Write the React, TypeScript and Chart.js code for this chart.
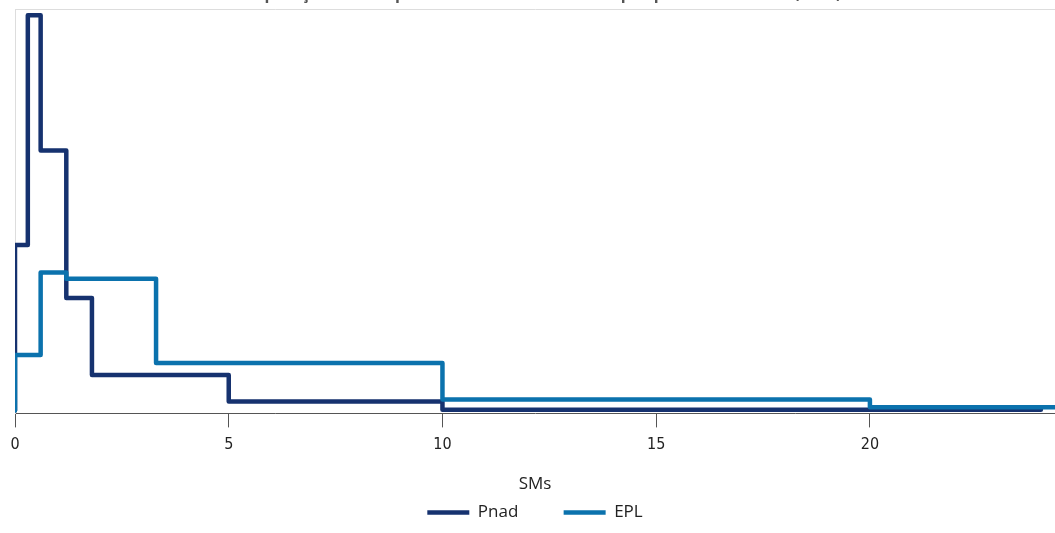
import React, { useEffect, useRef } from "react";
import { Chart, registerables } from "chart.js";

Chart.register(...registerables);

const TITLE = "Comparação entre o perfil salarial dos dados das pesquisas Pnad e EPL (2017)";
const X_TITLE = "SMs";
const X_TICKS = [0, 5, 10, 15, 20];

// Histogram bin edges (in minimum wages) and densities, drawn as step lines
const PNAD_X = [0, 0, 0.3, 0.6, 1.2, 1.8, 5, 10, 24];
const PNAD_Y = [0, 0.206, 0.4925, 0.324, 0.14, 0.044, 0.011, 0.001, 0.001];
const EPL_X = [0, 0, 0.6, 1.2, 3.3, 10, 20, 25];
const EPL_Y = [0, 0.069, 0.172, 0.164, 0.059, 0.0137, 0.004, 0.004];

const PNAD_COLOR = "#16326f";
const EPL_COLOR = "#0b72ad";

export default function App() {
  const ref = useRef<HTMLCanvasElement | null>(null);
  useEffect(() => {
    if (!ref.current) return;
    const chart = new Chart(ref.current, {
      type: "line",
      data: {
        datasets: [
          {
            label: "Pnad",
            data: PNAD_X.map((x, i) => ({ x, y: PNAD_Y[i] })),
            borderColor: PNAD_COLOR,
            backgroundColor: PNAD_COLOR,
            borderWidth: 4.5,
            stepped: "before",
            pointRadius: 0,
            borderJoinStyle: "round",
            borderCapStyle: "round",
            order: 1,
          },
          {
            label: "EPL",
            data: EPL_X.map((x, i) => ({ x, y: EPL_Y[i] })),
            borderColor: EPL_COLOR,
            backgroundColor: EPL_COLOR,
            borderWidth: 4.5,
            stepped: "before",
            pointRadius: 0,
            borderJoinStyle: "round",
            borderCapStyle: "round",
            order: 0,
          },
        ],
      },
      options: {
        animation: false,
        responsive: true,
        maintainAspectRatio: false,
        layout: { padding: { left: 15, right: 0, top: 0, bottom: 2 } },
        plugins: {
          title: {
            display: true,
            text: TITLE,
            color: "#555",
            font: { family: "'Open Sans', sans-serif", size: 16, weight: "bold" },
            padding: { top: 5, bottom: 5 },
          },
          legend: {
            position: "bottom",
            labels: {
              usePointStyle: true,
              pointStyle: "line",
              pointStyleWidth: 42,
              color: "#222",
              font: { family: "'Open Sans', sans-serif", size: 17 },
              padding: 10,
              generateLabels: (c: any) => {
                const items = Chart.defaults.plugins.legend.labels
                  .generateLabels(c)
                  .slice()
                  .sort((a: any, b: any) => a.datasetIndex - b.datasetIndex);
                return items.map((it: any, i: number) =>
                  i < items.length - 1 ? { ...it, text: it.text + "        " } : it
                );
              },
            },
          },
          tooltip: { enabled: false },
        },
        scales: {
          x: {
            type: "linear",
            min: 0,
            max: 24.33,
            afterBuildTicks: (scale: any) => {
              scale.ticks = X_TICKS.map((v) => ({ value: v }));
            },
            ticks: {
              color: "#222",
              font: { family: "'Liberation Sans Narrow', 'DejaVu Sans Condensed', sans-serif", size: 16 },
              padding: 8,
              maxRotation: 0,
            },
            grid: {
              drawOnChartArea: false,
              drawTicks: true,
              tickLength: 14,
              color: "#555",
            },
            border: { display: true, color: "#555", width: 1 },
            title: {
              display: true,
              text: X_TITLE,
              color: "#222",
              font: { family: "'Open Sans', sans-serif", size: 17 },
              padding: { top: 11, bottom: 0 },
            },
          },
          y: {
            type: "linear",
            min: -0.0037,
            max: 0.5,
            ticks: { display: false },
            grid: {
              drawTicks: false,
              color: (ctx: any) => (ctx.tick && ctx.tick.value === 0.5 ? "#ddd" : "rgba(0,0,0,0)"),
            },
            border: { display: true, color: "#ddd", width: 1 },
          },
        },
      },
    });
    return () => chart.destroy();
  }, []);
  return (
    <div style={{ position: "fixed", left: 0, top: -20, width: 1055, height: 553 }}>
      <canvas ref={ref} />
    </div>
  );
}
